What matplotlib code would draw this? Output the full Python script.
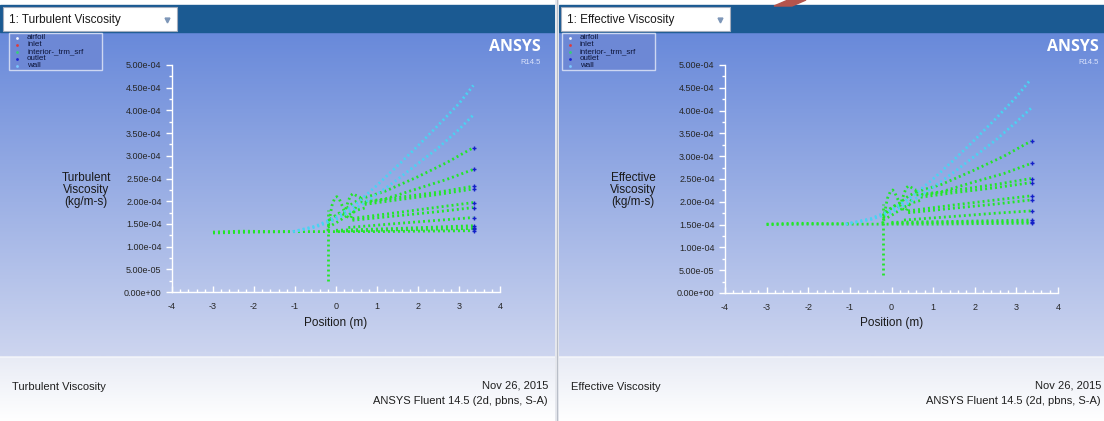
import numpy as np
import matplotlib
matplotlib.use('Agg')
import matplotlib.pyplot as plt
from matplotlib.patches import Rectangle, Polygon
from matplotlib.colors import to_rgb
from matplotlib.ticker import MultipleLocator, FuncFormatter

W, H = 1104, 421
E4 = 1e-4  # all viscosity values below are in units of 1e-4 kg/m-s

# ---------------- Turbulent viscosity (left panel) ----------------
TURB_BASE_X = [-3.0, -2.0, -1.0, -0.2, 1.0, 2.0, 3.35]
TURB_BASE_Y = [1.30, 1.32, 1.33, 1.33, 1.33, 1.34, 1.35]
TURB_BASE2_X = [-3.0, -2.3, -1.5, -1.0]
TURB_BASE2_Y = [1.32, 1.34, 1.33, 1.33]
TURB_FAN_X = [[0.6, 1.2, 2.0, 2.7, 3.35], [0.6, 1.2, 2.0, 2.7, 3.35],
              [0.7, 1.5, 2.5, 3.35], [0.7, 1.5, 2.5, 3.35],
              [0.4, 1.5, 2.5, 3.35], [0.4, 1.5, 2.5, 3.35],
              [0.3, 1.5, 2.5, 3.35], [0.0, 1.5, 3.35], [0.0, 1.5, 3.35]]
TURB_FAN_Y = [[2.05, 2.22, 2.54, 2.85, 3.18], [1.98, 2.05, 2.28, 2.48, 2.70],
              [1.97, 2.08, 2.20, 2.33], [1.93, 2.03, 2.15, 2.27],
              [1.62, 1.75, 1.87, 1.97], [1.58, 1.68, 1.77, 1.86],
              [1.42, 1.51, 1.58, 1.64], [1.36, 1.40, 1.46], [1.34, 1.37, 1.40]]
TURB_HUMP_X = [[-0.2, -0.16, -0.1, -0.03, 0.02, 0.08, 0.15, 0.22],
               [0.2, 0.28, 0.35, 0.42, 0.5, 0.6, 0.66],
               [-0.2, 0.0, 0.2, 0.4, 0.6],
               [-0.2, 0.05, 0.3, 0.5, 0.7],
               [-0.15, 0.1, 0.35, 0.5],
               [-0.2, -0.2]]
TURB_HUMP_Y = [[1.35, 1.60, 1.90, 2.07, 2.10, 2.05, 1.90, 1.75],
               [1.72, 1.95, 2.12, 2.17, 2.12, 2.08, 2.10],
               [1.50, 1.68, 1.80, 1.95, 2.05],
               [1.42, 1.55, 1.70, 1.80, 1.85],
               [1.60, 1.75, 1.62, 1.90],
               [0.24, 1.80]]
TURB_WALL_X = [-1.05, -0.5, 0.0, 0.5, 1.0, 1.5, 2.0, 2.5, 3.0, 3.35]
TURB_WALL1_Y = [1.33, 1.45, 1.65, 1.95, 2.35, 2.78, 3.22, 3.68, 4.15, 4.55]
TURB_WALL2_Y = [1.33, 1.43, 1.60, 1.85, 2.15, 2.48, 2.83, 3.18, 3.58, 3.90]
TURB_OUTLET_Y = [3.18, 2.70, 2.33, 2.27, 1.97, 1.86, 1.64, 1.46, 1.42, 1.38, 1.35]

# ---------------- Effective viscosity (right panel) ----------------
EFF_BASE_X = [-3.0, -2.0, -1.0, -0.2, 1.0, 2.0, 3.35]
EFF_BASE_Y = [1.50, 1.51, 1.51, 1.51, 1.51, 1.52, 1.53]
EFF_BASE2_X = [-3.0, -2.3, -1.5, -1.0]
EFF_BASE2_Y = [1.51, 1.53, 1.52, 1.52]
EFF_FAN_X = TURB_FAN_X
EFF_FAN_Y = [[2.22, 2.38, 2.70, 3.00, 3.33], [2.15, 2.22, 2.44, 2.62, 2.84],
             [2.14, 2.25, 2.38, 2.51], [2.10, 2.20, 2.31, 2.42],
             [1.80, 1.93, 2.04, 2.13], [1.76, 1.86, 1.95, 2.04],
             [1.60, 1.68, 1.75, 1.80], [1.55, 1.57, 1.60], [1.53, 1.55, 1.56]]
EFF_HUMP_X = [[-0.21, -0.16, -0.1, -0.03, 0.03, 0.08, 0.15, 0.22],
              [0.2, 0.28, 0.35, 0.41, 0.5, 0.6, 0.66],
              [-0.2, 0.0, 0.2, 0.4, 0.6],
              [-0.2, 0.05, 0.3, 0.5, 0.7],
              [-0.15, 0.1, 0.35, 0.5],
              [-0.21, -0.21]]
EFF_HUMP_Y = [[1.53, 1.78, 2.07, 2.22, 2.26, 2.20, 2.06, 1.92],
              [1.90, 2.12, 2.30, 2.35, 2.30, 2.25, 2.27],
              [1.68, 1.86, 1.98, 2.12, 2.22],
              [1.60, 1.73, 1.88, 1.98, 2.03],
              [1.78, 1.93, 1.80, 2.08],
              [0.39, 1.95]]
EFF_WALL_X = [-1.1, -0.5, 0.0, 0.5, 1.0, 1.5, 2.0, 2.5, 3.0, 3.35]
EFF_WALL1_Y = [1.51, 1.63, 1.82, 2.12, 2.50, 2.92, 3.36, 3.82, 4.30, 4.69]
EFF_WALL2_Y = [1.51, 1.61, 1.77, 2.02, 2.32, 2.65, 3.00, 3.35, 3.75, 4.05]
EFF_OUTLET_Y = [3.33, 2.84, 2.51, 2.42, 2.13, 2.04, 1.80, 1.60, 1.56, 1.53]

OUTLET_X = 3.37
LEGEND_NAMES = ['airfoil', 'inlet', 'interior-_trm_srf', 'outlet', 'wall']
LEGEND_COLORS = ['#f4f6ff', '#e03a3a', '#36cf78', '#1a22d0', '#7cc8ff']

GREEN = '#22e628'
CYAN = '#48d4f2'
DOTS = (0, (0.7, 1.1))

plt.rcParams['font.family'] = ['Liberation Sans', 'DejaVu Sans']
plt.rcParams['axes.unicode_minus'] = False


def px_rect(x0, y0, x1, y1):
    return [x0 / W, 1 - y1 / H, (x1 - x0) / W, (y1 - y0) / H]


def gradient(bg, x0, x1, y0, y1, c_top, c_bot):
    t = np.linspace(0, 1, 256)[:, None]
    img = np.array(to_rgb(c_top)) * (1 - t) + np.array(to_rgb(c_bot)) * t
    bg.imshow(img[:, None, :], extent=(x0, x1, y1, y0), aspect='auto',
              origin='upper', interpolation='bilinear', zorder=0)


def draw_chrome(bg, p):
    x0, x1 = p['left'], p['right']
    bg.add_patch(Rectangle((x0, 5), x1 - x0, 27, color='#1b5a92', zorder=1))
    gradient(bg, x0, x1, 32, 356, '#6889da', '#cdd5ef')
    gradient(bg, x0, x1, 356, 421, '#e8ebf5', '#ffffff')
    bg.plot([x0, x1], [356.5, 356.5], color='#f2f4fa', lw=1, zorder=1)

    # dropdown
    d0, d1 = p['drop']
    bg.add_patch(Rectangle((d0, 7), d1 - d0, 24, facecolor='white',
                           edgecolor='#a4adbd', lw=0.8, zorder=2))
    bg.text(d0 + 6, 19.5, p['drop_text'], fontsize=8.5, color='#1a1a1a',
            va='center', ha='left', zorder=3)
    bg.plot(d1 - 10, 20, marker='v', ms=3.5, color='#7d96b8', zorder=3)

    # legend (entries are packed tightly, as in the Fluent window)
    l0, l1 = p['legend']
    bg.add_patch(Rectangle((l0, 33), l1 - l0, 37, facecolor='#6d88d5',
                           edgecolor='#cdd7f2', lw=1, zorder=2))
    for i, (name, col) in enumerate(zip(LEGEND_NAMES, LEGEND_COLORS)):
        yy = 37.5 + i * 7
        bg.plot(l0 + 8, yy, marker='o', ms=2, color=col, mew=0, zorder=3)
        bg.text(l0 + 18, yy, name, fontsize=5.8, color='#0c1438',
                va='center', ha='left', zorder=3)

    # logo
    bg.text(p['logo'], 47, 'ANSYS', fontsize=11.5, fontweight='bold',
            family=['Open Sans', 'DejaVu Sans'], color='white',
            ha='right', va='center', zorder=3)
    bg.text(p['logo'], 62, 'R14.5', fontsize=5.5, color='#dbe3fb',
            ha='right', va='center', zorder=3)

    # footer
    bg.text(x0 + 12, 387, p['drop_text'][3:], fontsize=8, color='#202020',
            ha='left', va='center', zorder=3)
    bg.text(p['foot'], 385, 'Nov 26, 2015', fontsize=8, color='#202020',
            ha='right', va='center', zorder=3)
    bg.text(p['foot'], 401, 'ANSYS Fluent 14.5 (2d, pbns, S-A)', fontsize=8,
            color='#202020', ha='right', va='center', zorder=3)


def draw_axes(fig, p, d):
    axl, axr, axt, axb = p['axes']
    ax = fig.add_axes(px_rect(axl, axt, axr, axb))
    ax.set_facecolor('none')
    ax.set_zorder(5)

    def dotted(xs, ys, color):
        ax.plot(xs, np.array(ys) * E4, color=color, lw=2.0, linestyle=DOTS,
                dash_capstyle='butt', zorder=3)

    dotted(d['base_x'], d['base_y'], GREEN)
    dotted(d['base2_x'], d['base2_y'], GREEN)
    for xs, ys in zip(d['fan_x'], d['fan_y']):
        dotted(xs, ys, GREEN)
    for xs, ys in zip(d['hump_x'], d['hump_y']):
        dotted(xs, ys, GREEN)
    dotted(d['wall_x'], d['wall1_y'], CYAN)
    dotted(d['wall_x'], d['wall2_y'], CYAN)
    ax.plot([OUTLET_X] * len(d['outlet_y']), np.array(d['outlet_y']) * E4,
            linestyle='none', marker='+', ms=3.5, mew=1, color='#1420c8',
            zorder=4)

    ax.set_xlim(-4, 4)
    ax.set_ylim(0, 5e-4)
    for s in ['top', 'right']:
        ax.spines[s].set_visible(False)
    for s in ['left', 'bottom']:
        ax.spines[s].set_color('white')
        ax.spines[s].set_linewidth(1)
    ax.xaxis.set_major_locator(MultipleLocator(1))
    ax.xaxis.set_minor_locator(MultipleLocator(0.2))
    ax.yaxis.set_major_locator(MultipleLocator(0.5e-4))
    ax.yaxis.set_minor_locator(MultipleLocator(0.25e-4))
    ax.yaxis.set_major_formatter(FuncFormatter(lambda v, pos: f'{v:.2e}'))
    ax.tick_params(axis='y', which='major', direction='out', length=4.5,
                   width=1, color='white', labelsize=6.5,
                   labelcolor='#262626', pad=3)
    ax.tick_params(axis='y', which='minor', direction='out', length=2.5,
                   width=1, color='white')
    ax.tick_params(axis='x', which='major', direction='in', length=4,
                   width=1, color='white', labelsize=6.5,
                   labelcolor='#262626', pad=7)
    ax.tick_params(axis='x', which='minor', direction='in', length=2.5,
                   width=1, color='white')

    ax.set_ylabel(p['ylabel'], rotation=0, fontsize=8.5, color='#1a1a1a',
                  ha='center', va='center', linespacing=0.95)
    ax.yaxis.set_label_coords((p['ylab_x'] - axl) / (axr - axl),
                              (axb - 190) / (axb - axt))
    ax.set_xlabel('Position (m)', fontsize=8.5, color='#1a1a1a', va='center')
    ax.xaxis.set_label_coords(0.5, (axb - 323) / (axb - axt))
    return ax


LEFT = dict(left=0, right=555, drop=(3, 177), legend=(9, 102), logo=541,
            foot=548, axes=(172, 500, 65, 292), ylab_x=86,
            drop_text='1: Turbulent Viscosity',
            ylabel='Turbulent\nViscosity\n(kg/m-s)')
RIGHT = dict(left=559, right=1104, drop=(561, 730), legend=(562, 655),
             logo=1099, foot=1101, axes=(725, 1058, 65, 293), ylab_x=633,
             drop_text='1: Effective Viscosity',
             ylabel='Effective\nViscosity\n(kg/m-s)')

TURB = dict(base_x=TURB_BASE_X, base_y=TURB_BASE_Y, base2_x=TURB_BASE2_X,
            base2_y=TURB_BASE2_Y, fan_x=TURB_FAN_X, fan_y=TURB_FAN_Y,
            hump_x=TURB_HUMP_X, hump_y=TURB_HUMP_Y, wall_x=TURB_WALL_X,
            wall1_y=TURB_WALL1_Y, wall2_y=TURB_WALL2_Y,
            outlet_y=TURB_OUTLET_Y)
EFF = dict(base_x=EFF_BASE_X, base_y=EFF_BASE_Y, base2_x=EFF_BASE2_X,
           base2_y=EFF_BASE2_Y, fan_x=EFF_FAN_X, fan_y=EFF_FAN_Y,
           hump_x=EFF_HUMP_X, hump_y=EFF_HUMP_Y, wall_x=EFF_WALL_X,
           wall1_y=EFF_WALL1_Y, wall2_y=EFF_WALL2_Y, outlet_y=EFF_OUTLET_Y)

fig = plt.figure(figsize=(W / 100, H / 100), dpi=100, facecolor='white')
bg = fig.add_axes([0, 0, 1, 1])
bg.set_zorder(0)

draw_chrome(bg, LEFT)
draw_chrome(bg, RIGHT)
# separator between the two views
bg.add_patch(Rectangle((555, 0), 4, H, facecolor='#e6e8ee', lw=0, zorder=4))
bg.plot([556.5, 556.5], [0, H], color='#b9bec8', lw=0.8, zorder=4)
# bit of watermark at the top edge
bg.add_patch(Polygon([(774, 6), (788, 0), (806, 0), (792, 6)],
                     closed=True, color='#b5544c', zorder=4))
bg.set_xlim(0, W)
bg.set_ylim(H, 0)
bg.axis('off')

draw_axes(fig, LEFT, TURB)
draw_axes(fig, RIGHT, EFF)

fig.savefig('out.png', dpi=100, facecolor='white')
